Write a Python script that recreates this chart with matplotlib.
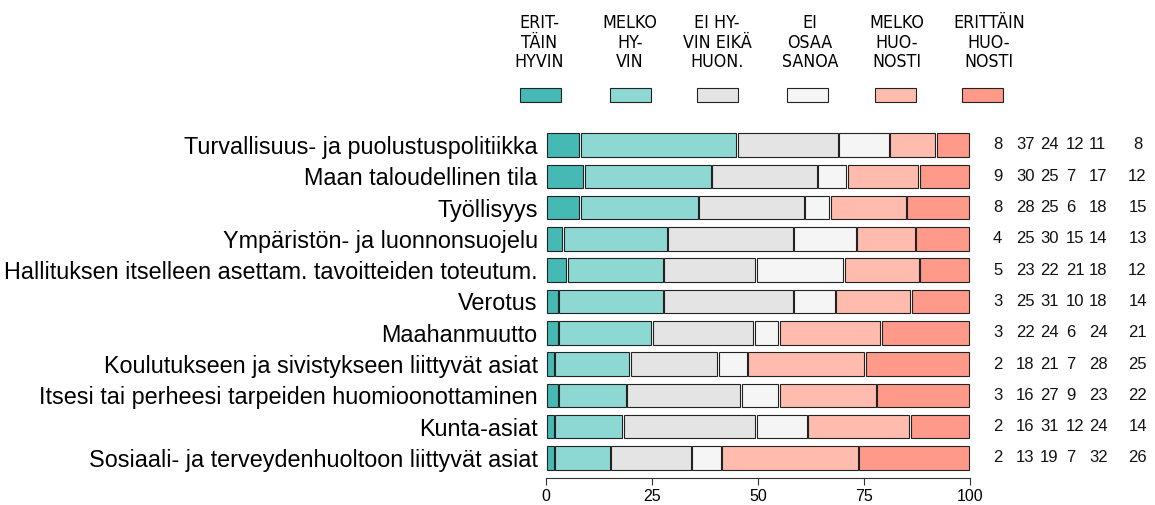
import numpy as np
import matplotlib.pyplot as plt
from matplotlib.patches import Rectangle

plt.rcParams['font.family'] = ['Liberation Sans', 'DejaVu Sans']

# Data (percent of respondents)
categories = [
    'Turvallisuus- ja puolustuspolitiikka',
    'Maan taloudellinen tila',
    'Työllisyys',
    'Ympäristön- ja luonnonsuojelu',
    'Hallituksen itselleen asettam. tavoitteiden toteutum.',
    'Verotus',
    'Maahanmuutto',
    'Koulutukseen ja sivistykseen liittyvät asiat',
    'Itsesi tai perheesi tarpeiden huomioonottaminen',
    'Kunta-asiat',
    'Sosiaali- ja terveydenhuoltoon liittyvät asiat',
]
erittain_hyvin = [8, 9, 8, 4, 5, 3, 3, 2, 3, 2, 2]
melko_hyvin = [37, 30, 28, 25, 23, 25, 22, 18, 16, 16, 13]
ei_hyvin_eika = [24, 25, 25, 30, 22, 31, 24, 21, 27, 31, 19]
ei_osaa = [12, 7, 6, 15, 21, 10, 6, 7, 9, 12, 7]
melko_huonosti = [11, 17, 18, 14, 18, 18, 24, 28, 23, 24, 32]
erittain_huonosti = [8, 12, 15, 13, 12, 14, 21, 25, 22, 14, 26]

legend_labels = ['ERIT-\nTÄIN\nHYVIN', 'MELKO\nHY-\nVIN', 'EI HY-\nVIN EIKÄ\nHUON.',
                 'EI\nOSAA\nSANOA', 'MELKO\nHUO-\nNOSTI', 'ERITTÄIN\nHUO-\nNOSTI']
colors = ['#46b9b4', '#8ed8d4', '#e4e4e4', '#f5f5f5', '#ffbbae', '#ff998a']

counts = np.array([erittain_hyvin, melko_hyvin, ei_hyvin_eika, ei_osaa,
                   melko_huonosti, erittain_huonosti]).T
shares = counts / counts.sum(axis=1, keepdims=True) * 100

W, H = 1155, 505
fig = plt.figure(figsize=(W / 100, H / 100), dpi=100)
ax = fig.add_axes([546 / W, 1 - 478.3 / H, 424 / W, 352.1 / H])

n = len(categories)
ypos = np.arange(n)[::-1]
left = np.zeros(n)
gap = 0.35
for j in range(counts.shape[1]):
    bars = ax.barh(ypos, shares[:, j] - gap, left=left + gap / 2, height=0.75,
                   color=colors[j], edgecolor='#222222', linewidth=0.8)
    for b in bars:
        b.set_clip_on(False)
    left += shares[:, j]

# numbers on the right (column positions in pixels -> data units)
col_px = [993, 1016, 1040, 1066, 1089, 1137.5]
col_ha = ['left', 'left', 'left', 'left', 'left', 'center']
col_x = [(p - 546) / 4.24 for p in col_px]
for i in range(n):
    for j in range(counts.shape[1]):
        ax.text(col_x[j], ypos[i], str(counts[i, j]), ha=col_ha[j], va='center',
                fontsize=12, color='#111111')

ax.set_xlim(0, 100)
ax.set_ylim(-0.65, 10.6)
ax.set_yticks(ypos, categories, fontsize=16.8)
ax.tick_params(axis='y', length=0, pad=6)
ax.set_xticks([0, 25, 50, 75, 100])
ax.tick_params(axis='x', length=5, width=0.8, color='#333333', labelsize=11.5, pad=3)
for s in ['left', 'top', 'right']:
    ax.spines[s].set_visible(False)
ax.spines['bottom'].set_bounds(0, 100)
ax.spines['bottom'].set_color('#333333')
ax.spines['bottom'].set_linewidth(0.8)

# legend on top
patch_cx = [540, 630, 717, 808, 895, 982]
label_cx = [539, 630, 717, 810, 897, 989]
for cx, tx, lab, c in zip(patch_cx, label_cx, legend_labels, colors):
    fig.add_artist(Rectangle(((cx - 20.5) / W, 1 - 102 / H), 41 / W, 14 / H,
                             facecolor=c, edgecolor='#222222', linewidth=0.8,
                             transform=fig.transFigure))
    fig.text(tx / W, 1 - 14 / H, lab, ha='center', va='top', fontsize=12.8,
             family=['DejaVu Sans'], stretch='condensed',
             linespacing=1.12, multialignment='center')

fig.savefig('out.png', dpi=100)
